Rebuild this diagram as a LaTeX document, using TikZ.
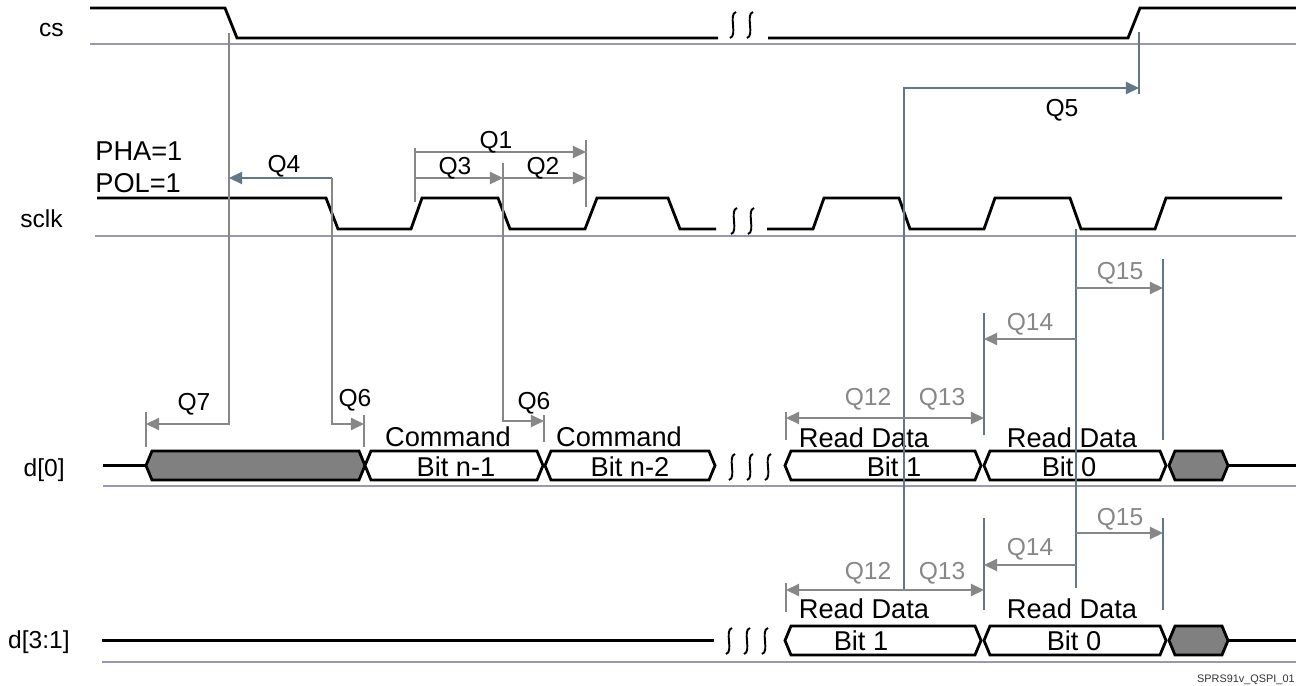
\documentclass[tikz,border=0pt]{standalone}
\usepackage{fontspec}
\setmainfont{Liberation Sans}
\usetikzlibrary{arrows.meta}
\definecolor{qBase}{RGB}{152,152,180}
\definecolor{qGrey}{RGB}{135,135,135}
\definecolor{qSlate}{RGB}{98,120,134}
\definecolor{qBus}{RGB}{128,128,128}
\tikzset{
 qspi wave/.style={line width=1.6pt},
 qspi base/.style={line width=1.6pt,draw=qBase},
 qspi break/.style={line width=1.1pt},
 qspi mark/.style={line width=0.9pt},
 qspi tip/.style={-{Triangle[length=7.5pt,width=7pt]}},
 qspi both/.style={{Triangle[length=7.5pt,width=7pt]}-{Triangle[length=7.5pt,width=7pt]}},
 qspi name/.style={font=\fontsize{14}{16}\selectfont,anchor=east,inner sep=0pt},
 qspi text/.style={font=\fontsize{15.5}{18}\selectfont,inner sep=0pt},
 qspi q/.style={font=\fontsize{14}{16}\selectfont,inner sep=0pt},
 qspi qgrey/.style={qspi q,text=qGrey}
}
\begin{document}
\begin{tikzpicture}[x=0.02cm,y=-0.02cm]
 \useasboundingbox (0,0) rectangle (1296,686);
 % signal names and base lines
 \foreach \n/\t/\tx/\ty/\bx/\by in {cs/cs/64/30/90/44,sclk/sclk/63/219/95/236,
     dz/{d[0]}/65/470/103/486,dh/{d[3:1]}/70/642/102/662}{
   \node[qspi name] (name-\n) at (\tx,\ty) {\t};
   \coordinate (base-\n) at (\bx,\by);
   \coordinate (base-\n-e) at (1296,\by);
   \draw[qspi base] (base-\n) -- (base-\n-e);
 }
 % waveforms
 \draw[qspi wave] (90,8) -- (225,8) -- (237,38) -- (718,38);
 \draw[qspi wave] (768,38) -- (1128,38) -- (1140,8) -- (1296,8);
 \draw[qspi wave] (97,198) -- (326,198) -- (338,229) -- (411,229) -- (422,198)
   -- (498,198) -- (510,229) -- (585,229) -- (597,198) -- (668,198)
   -- (680,229) -- (716,229);
 \draw[qspi wave] (767,229) -- (813,229) -- (824,198) -- (899,198) -- (910,229)
   -- (984,229) -- (995,198) -- (1070,198) -- (1081,229) -- (1155,229)
   -- (1166,198) -- (1282,198);
 \draw[qspi wave] (103,465.5) -- (146,465.5) (1228,465.5) -- (1296,465.5);
 \draw[qspi wave] (102,640.5) -- (714,640.5) (1228,640.5) -- (1296,640.5);
 % bus cells
 \foreach \l/\r/\c/\ym in {146/365/qBus/465.5,365/543/white/465.5,545/715/white/465.5,
     785/981/white/465.5,984/1166/white/465.5,1169/1228/qBus/465.5,
     785/981/white/640.5,984/1166/white/640.5,1169/1228/qBus/640.5}{
   \draw[qspi wave,fill=\c] (\l,\ym) -- (\l+6,\ym-14.5) -- (\r-6,\ym-14.5)
     -- (\r,\ym) -- (\r-6,\ym+14.5) -- (\l+6,\ym+14.5) -- cycle;
 }
 % breaks
 \foreach \x/\y in {733/25,750/25,734/221,751/221,732/467,750/467,768/467,
     729/641,747/641,765/641}{
   \draw[qspi break] (\x+3,\y-13) .. controls (\x-5,\y-11) and (\x+5,\y+11) .. (\x-3,\y+13);
 }
 % bus texts
 \foreach \n/\x/\y/\t in {cmd1/448/437/Command,bitn1/456/467/Bit n-1,
     cmd2/619/437/Command,bitn2/630/467/Bit n-2,
     rd0a/864/438/Read Data,bt0a/894/467/Bit 1,rd0b/1072/438/Read Data,bt0b/1069/467/Bit 0,
     rd1a/864/609/Read Data,bt1a/861/641/Bit 1,rd1b/1072/609/Read Data,bt1b/1074/641/Bit 0}{
   \node[qspi text] (\n) at (\x,\y) {\t};
 }
 \node[qspi text,anchor=west] (pha) at (95,151) {PHA=1};
 \node[qspi text,anchor=west] (pol) at (95,183) {POL=1};
 % timing marks
 \coordinate (cs-fall) at (229,33);
 \coordinate (q7-turn) at (229,424);
 \coordinate (q7-end) at (146,424);
 \coordinate (q4-start) at (332,178);
 \coordinate (q4-end) at (229,178);
 \coordinate (q6a-turn) at (332,424);
 \coordinate (q6a-end) at (364,424);
 \coordinate (q1-start) at (415,152);
 \coordinate (q1-end) at (586,152);
 \coordinate (q3-start) at (415,178);
 \coordinate (q3-end) at (503,178);
 \coordinate (q2-end) at (586,178);
 \coordinate (q6b-top) at (503,163);
 \coordinate (q6b-turn) at (503,421);
 \coordinate (q6b-end) at (544,421);
 \coordinate (q5-foot) at (904,590);
 \coordinate (q5-turn) at (904,88);
 \coordinate (q5-end) at (1139,88);
 \coordinate (rd-fall) at (1076,229);
 \coordinate (rd-foot) at (1076,588);
 \draw[qspi mark,draw=qGrey,qspi tip] (cs-fall) -- (q7-turn) -- (q7-end);
 \draw[qspi mark,draw=qSlate,qspi tip] (q4-start) -- (q4-end);
 \draw[qspi mark,draw=qGrey,qspi tip] (q4-start) -- (q6a-turn) -- (q6a-end);
 \draw[qspi mark,draw=qGrey,qspi tip] (q1-start) -- (q1-end);
 \draw[qspi mark,draw=qGrey,qspi tip] (q3-start) -- (q3-end);
 \draw[qspi mark,draw=qGrey,qspi tip] (q3-end) -- (q2-end);
 \draw[qspi mark,draw=qGrey,qspi tip] (q6b-top) -- (q6b-turn) -- (q6b-end);
 \draw[qspi mark,draw=qSlate,qspi tip] (q5-foot) -- (q5-turn) -- (q5-end);
 \draw[qspi mark,draw=qSlate] (rd-fall) -- (rd-foot);
 % read window, d[0] and d[3:1]
 \foreach \r/\a/\b/\c in {0/288/339/418,1/533/565/590}{
   \coordinate (q15s-\r) at (1076,\a);
   \coordinate (q15e-\r) at (1163,\a);
   \coordinate (q14s-\r) at (1076,\b);
   \coordinate (q14e-\r) at (984,\b);
   \coordinate (q12s-\r) at (786,\c);
   \coordinate (q13e-\r) at (984,\c);
   \draw[qspi mark,draw=qGrey,qspi tip] (q15s-\r) -- (q15e-\r);
   \draw[qspi mark,draw=qGrey,qspi tip] (q14s-\r) -- (q14e-\r);
   \draw[qspi mark,draw=qGrey,qspi both] (q12s-\r) -- (q13e-\r);
 }
 % ticks
 \foreach \x/\ya/\yb/\c in {1139/32/94/qSlate,415/148/202/qGrey,586/140/207/qGrey,
     146/412/447/qGrey,364/415/447/qGrey,544/415/442/qGrey,
     1163/259/440/qSlate,984/313/435/qSlate,786/412/440/qGrey,
     1163/518/610/qSlate,984/518/610/qSlate,786/583/612/qGrey}{
   \draw[qspi mark,draw=\c] (\x,\ya) -- (\x,\yb);
 }
 % labels
 \foreach \n/\x/\y/\t in {q1/496/142/Q1,q3/455/168/Q3,q2/543/168/Q2,q4/284/166/Q4,
     q5/1062/110/Q5,q7/194/404/Q7,q6a/355/400/Q6,q6b/534/403/Q6}{
   \node[qspi q] (lab-\n) at (\x,\y) {\t};
 }
 \foreach \r/\a/\b/\c in {0/273/324/399,1/519/549/573}{
   \node[qspi qgrey] (lab-q15-\r) at (1120,\a) {Q15};
   \node[qspi qgrey] (lab-q14-\r) at (1030,\b) {Q14};
   \node[qspi qgrey] (lab-q12-\r) at (868,\c) {Q12};
   \node[qspi qgrey] (lab-q13-\r) at (942,\c) {Q13};
 }
 \node[font=\fontsize{6.2}{7}\selectfont,anchor=east,inner sep=0pt,text=black!80]
   (fig-id) at (1295,680) {SPRS91v\_QSPI\_01};
\end{tikzpicture}
\end{document}
